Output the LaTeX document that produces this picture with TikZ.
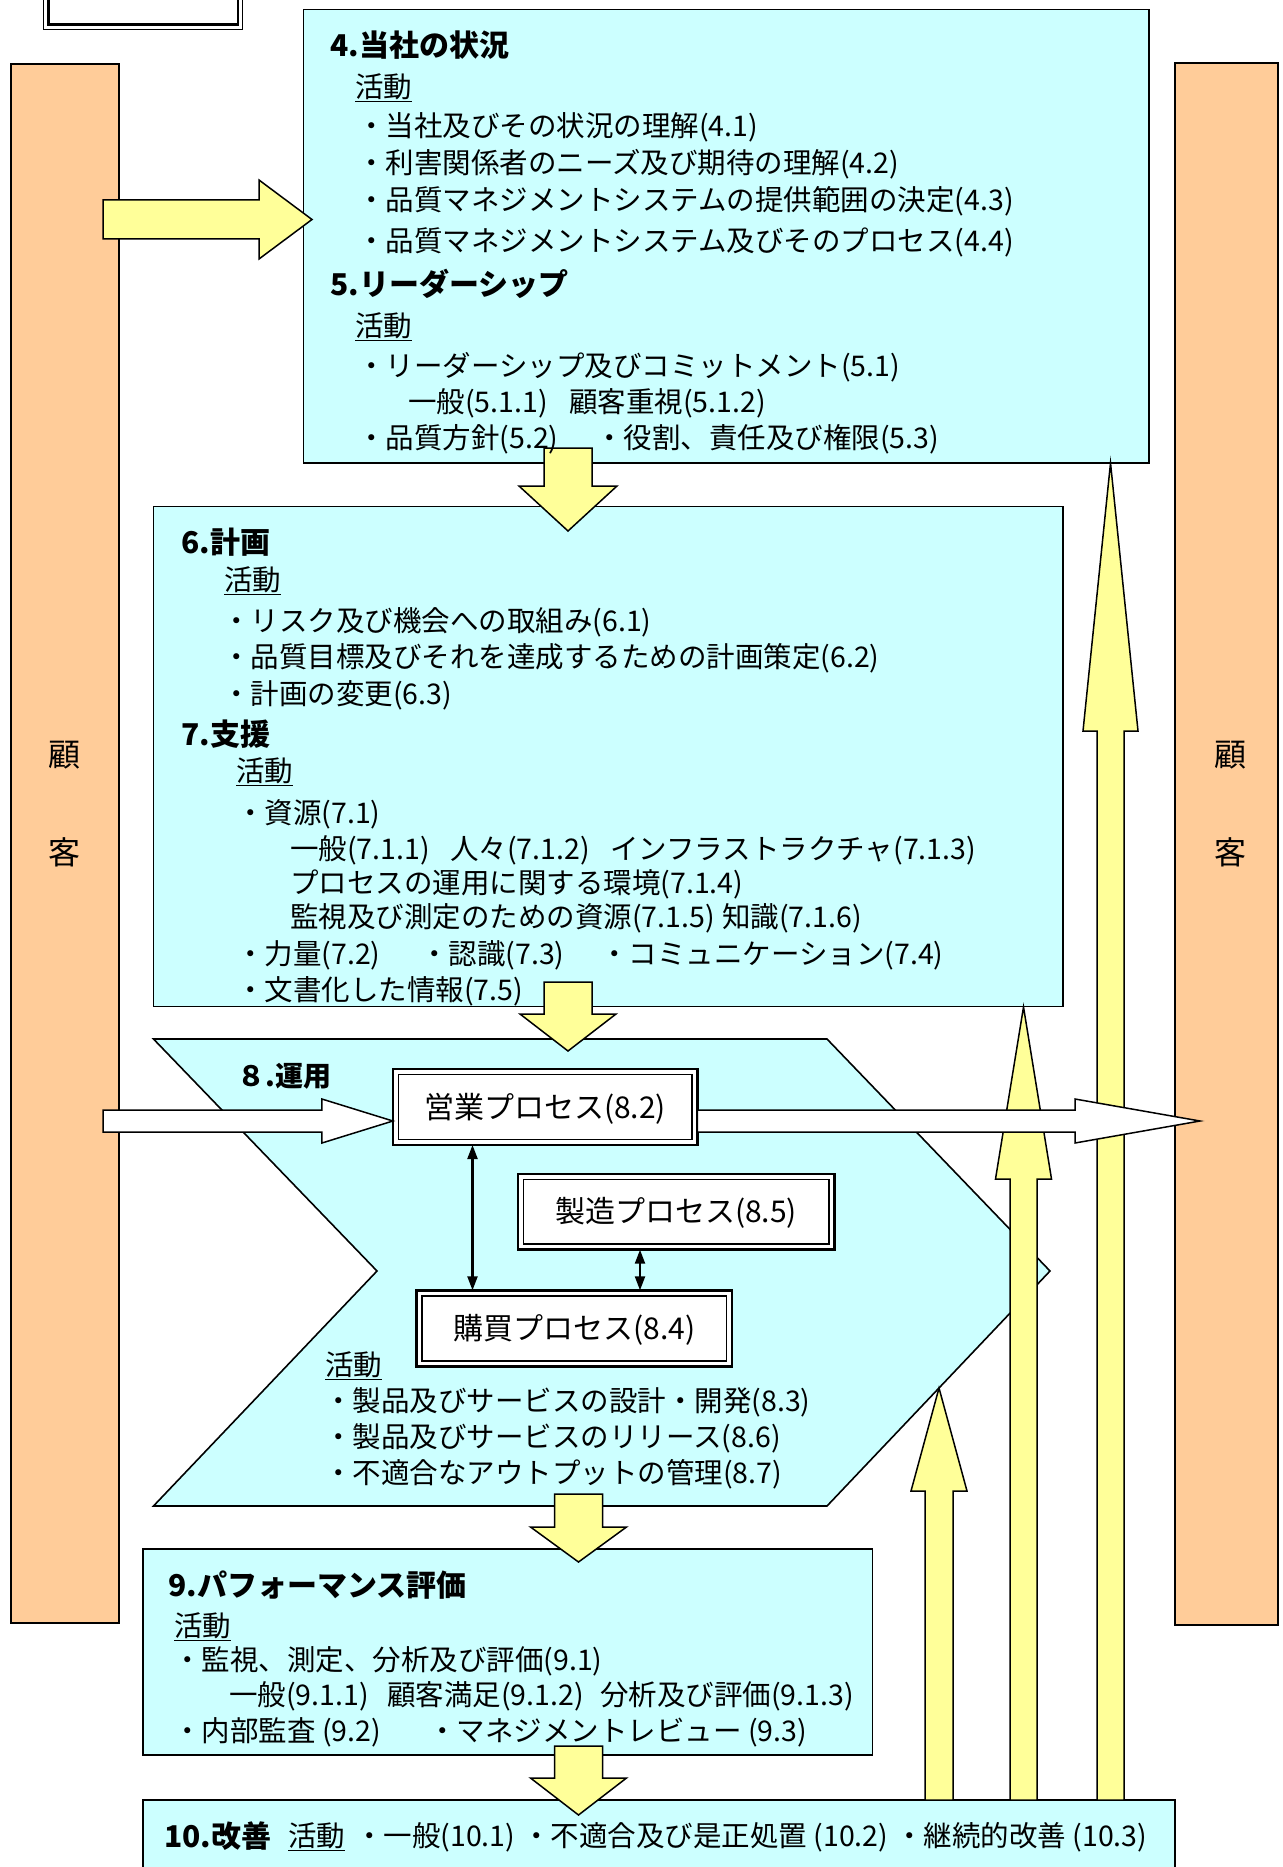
\documentclass[tikz,border=0pt]{standalone}
\usepackage{fontspec}
\setmainfont{Noto Sans CJK JP}
\usetikzlibrary{calc,arrows.meta}
\definecolor{cboxc}{HTML}{CCFFFF}
\definecolor{barc}{HTML}{FFCC99}
\definecolor{yarc}{HTML}{FFFF99}
% block arrows: #2 base, #3 tip, #4 shaft half width, #5 head half width, #6 head length
\newcommand\yarrowdown[6][yarr]{\filldraw[#1] ($(#2)+(-#4,0)$) -- ($(#3)+(-#4,-#6)$) -- ($(#3)+(-#5,-#6)$) -- (#3) -- ($(#3)+(#5,-#6)$) -- ($(#3)+(#4,-#6)$) -- ($(#2)+(#4,0)$) -- cycle;}
\newcommand\yarrowup[6][yarr]{\filldraw[#1] ($(#2)+(-#4,0)$) -- ($(#3)+(-#4,#6)$) -- ($(#3)+(-#5,#6)$) -- (#3) -- ($(#3)+(#5,#6)$) -- ($(#3)+(#4,#6)$) -- ($(#2)+(#4,0)$) -- cycle;}
\newcommand\yarrowright[6][yarr]{\filldraw[#1] ($(#2)+(0,-#4)$) -- ($(#3)+(-#6,-#4)$) -- ($(#3)+(-#6,-#5)$) -- (#3) -- ($(#3)+(-#6,#5)$) -- ($(#3)+(-#6,#4)$) -- ($(#2)+(0,#4)$) -- cycle;}
\begin{document}
\begin{tikzpicture}[x=1pt,y=-1pt,
  cbox/.style={draw=black,line width=1.6pt,fill=cboxc,anchor=north west,inner sep=0pt,outer sep=0pt},
  barbox/.style={draw=black,line width=1.6pt,fill=barc,anchor=north west,inner sep=0pt,outer sep=0pt},
  yarr/.style={draw=black,line width=1.5pt,fill=yarc,line join=miter},
  warr/.style={draw=black,line width=1.5pt,fill=white,line join=miter},
  pbox/.style={draw=black,line width=2.6pt,fill=white,inner sep=0pt,outer sep=0pt,
    font=\fontsize{30}{36}\selectfont,text height=26pt,text depth=3.6pt},
  txt/.style={anchor=west,inner sep=0pt,font=\fontsize{28.5}{34}\selectfont,text height=25pt,text depth=3.5pt},
  hd/.style={anchor=west,inner sep=0pt,font=\bfseries\fontsize{30}{36}\selectfont,text height=26pt,text depth=3.6pt},
  ul/.style={txt},
  kk/.style={inner sep=0pt,font=\fontsize{32}{38}\selectfont},
  dbl/.style={line width=2.2pt,{Triangle[width=10pt,length=14pt]}-{Triangle[width=10pt,length=14pt]}}
]
\clip (0,0) rectangle (1282,1867);
\fill[white] (0,0) rectangle (1282,1867);

% top-left double box (cut off)
\draw[line width=1.3pt] (43.5,-20) rectangle (242.3,29.3);
\draw[line width=2.2pt] (48.5,-20) rectangle (238,24.5);

% customer bars
\node[barbox,minimum width=108pt,minimum height=1559pt] (lbar) at (11,64) {};
\node[barbox,minimum width=103pt,minimum height=1562pt] (rbar) at (1175,63) {};
\node[kk] (lk1) at (64,755) {顧};
\node[kk] (lk2) at (64,852) {客};
\node[kk] (rk1) at (1230,755) {顧};
\node[kk] (rk2) at (1230,852) {客};

% cyan boxes
\node[cbox,minimum width=845.2pt,minimum height=453.5pt] (b4) at (303.5,9.5) {};
\node[cbox,minimum width=909.5pt,minimum height=500pt] (b6) at (153.5,506.5) {};
\filldraw[draw=black,line width=1.6pt,fill=cboxc,line join=miter]
  (153.5,1039) -- (827,1039) -- (1050,1271) -- (827,1506) -- (153.5,1506) -- (377,1271) -- cycle;
\node[cbox,minimum width=729.5pt,minimum height=206pt] (b9) at (143,1549) {};
\node[cbox,minimum width=1032pt,minimum height=100pt] (b10) at (143,1800) {};

% upward yellow arrows from 10
\coordinate (uaB) at (939,1800);   \coordinate (uaT) at (939,1388);
\coordinate (ubB) at (1023.5,1800); \coordinate (ubT) at (1023.5,1007);
\coordinate (ucB) at (1110.5,1800); \coordinate (ucT) at (1110.5,463);
\yarrowup{uaB}{uaT}{14}{28}{103}
\yarrowup{ubB}{ubT}{13.5}{28}{172}
\yarrowup{ucB}{ucT}{13.5}{27.5}{268}

% yellow arrows between boxes
\coordinate (raB) at (103,219.5); \coordinate (raT) at (312,219.5);
\yarrowright{raB}{raT}{19.5}{39.5}{53}
\coordinate (d1B) at (568,448);   \coordinate (d1T) at (568,531);
\coordinate (d2B) at (568,982);   \coordinate (d2T) at (568,1051);
\coordinate (d3B) at (578.5,1494); \coordinate (d3T) at (578.5,1562);
\coordinate (d4B) at (578.5,1746); \coordinate (d4T) at (578.5,1815);
\yarrowdown{d1B}{d1T}{24}{49}{45}
\yarrowdown{d2B}{d2T}{24}{48}{37}
\yarrowdown{d3B}{d3T}{24}{48}{35}
\yarrowdown{d4B}{d4T}{24}{48}{37}

% process boxes
\node[pbox,minimum width=304.5pt,minimum height=76pt] (p82) at (545.15,1107) {営業プロセス(8.2)};
\node[pbox,minimum width=316.4pt,minimum height=75.9pt] (p85) at (676.1,1211.75) {製造プロセス(8.5)};
\node[pbox,minimum width=315.2pt,minimum height=76pt] (p84) at (574.3,1328.3) {購買プロセス(8.4)};
\foreach \n in {p82,p85,p84}
  \draw[line width=1.5pt] ($(\n.north west)+(5.5,5.5)$) rectangle ($(\n.south east)+(-5.5,-5.5)$);

% white arrows (customer -> sales -> customer)
\coordinate (w1B) at (103,1121);
\coordinate (w1T) at (p82.west |- w1B);
\yarrowright[warr]{w1B}{w1T}{11}{22}{71}
\coordinate (w2T) at (1200,1121);
\coordinate (w2B) at (p82.east |- w2T);
\yarrowright[warr]{w2B}{w2T}{11}{22}{125}

% double arrows
\coordinate (v1) at (472.5,0);
\coordinate (v2) at (640,0);
\draw[dbl] (v1 |- p82.south) -- (v1 |- p84.north);
\draw[dbl] (v2 |- p85.south) -- (v2 |- p84.north);

% texts box 4/5
\node[hd] (t4) at (330,45) {4.当社の状況};
\node[ul] (t4a) at (355,87) {\underline{活動}};
\node[txt] (t41) at (357,126) {・当社及びその状況の理解(4.1)};
\node[txt] (t42) at (357,163) {・利害関係者のニーズ及び期待の理解(4.2)};
\node[txt] (t43) at (357,200) {・品質マネジメントシステムの提供範囲の決定(4.3)};
\node[txt] (t44) at (357,241) {・品質マネジメントシステム及びそのプロセス(4.4)};
\node[hd] (t5) at (330,284) {5.リーダーシップ};
\node[ul] (t5a) at (355,326) {\underline{活動}};
\node[txt] (t51) at (357,366) {・リーダーシップ及びコミットメント(5.1)};
\node[txt] (t511) at (408,402) {一般(5.1.1)};
\node[txt] (t512) at (569,402) {顧客重視(5.1.2)};
\node[txt] (t52) at (357,438) {・品質方針(5.2)};
\node[txt] (t53) at (595,438) {・役割、責任及び権限(5.3)};

% texts box 6/7
\node[hd] (t6) at (181,542) {6.計画};
\node[ul] (t6a) at (224,580) {\underline{活動}};
\node[txt] (t61) at (222,621) {・リスク及び機会への取組み(6.1)};
\node[txt] (t62) at (222,657) {・品質目標及びそれを達成するための計画策定(6.2)};
\node[txt] (t63) at (222,694) {・計画の変更(6.3)};
\node[hd] (t7) at (181,734) {7.支援};
\node[ul] (t7a) at (236,771) {\underline{活動}};
\node[txt] (t71) at (236,813) {・資源(7.1)};
\node[txt] (t711) at (290,849) {一般(7.1.1)};
\node[txt] (t712) at (450,849) {人々(7.1.2)};
\node[txt] (t713) at (610,849) {インフラストラクチャ(7.1.3)};
\node[txt] (t714) at (290,883) {プロセスの運用に関する環境(7.1.4)};
\node[txt] (t715) at (290,917) {監視及び測定のための資源(7.1.5)};
\node[txt] (t716) at (722,917) {知識(7.1.6)};
\node[txt] (t72) at (236,954) {・力量(7.2)};
\node[txt] (t73) at (420,954) {・認識(7.3)};
\node[txt] (t74) at (600,954) {・コミュニケーション(7.4)};
\node[txt] (t75) at (236,990) {・文書化した情報(7.5)};

% texts chevron 8
\node[hd,font=\bfseries\fontsize{28}{34}\selectfont] (t8) at (237,1075) {８.運用};
\node[ul] (t8a) at (325,1365) {\underline{活動}};
\node[txt] (t83) at (324,1401) {・製品及びサービスの設計・開発(8.3)};
\node[txt] (t86) at (324,1437) {・製品及びサービスのリリース(8.6)};
\node[txt] (t87) at (324,1473) {・不適合なアウトプットの管理(8.7)};

% texts box 9
\node[hd] (t9) at (168,1585) {9.パフォーマンス評価};
\node[ul] (t9a) at (174,1626) {\underline{活動}};
\node[txt] (t91) at (173,1660) {・監視、測定、分析及び評価(9.1)};
\node[txt] (t911) at (229,1695) {一般(9.1.1)};
\node[txt] (t912) at (387,1695) {顧客満足(9.1.2)};
\node[txt] (t913) at (600,1695) {分析及び評価(9.1.3)};
\node[txt] (t92) at (173,1731) {・内部監査 (9.2)};
\node[txt] (t93) at (428,1731) {・マネジメントレビュー (9.3)};

% texts box 10
\node[hd] (t10) at (164,1836) {10.改善};
\node[ul] (t10a) at (288,1836) {\underline{活動}};
\node[txt] (t101) at (355,1836) {・一般(10.1)};
\node[txt] (t102) at (522,1836) {・不適合及び是正処置 (10.2)};
\node[txt] (t103) at (895,1836) {・継続的改善 (10.3)};
\end{tikzpicture}
\end{document}
